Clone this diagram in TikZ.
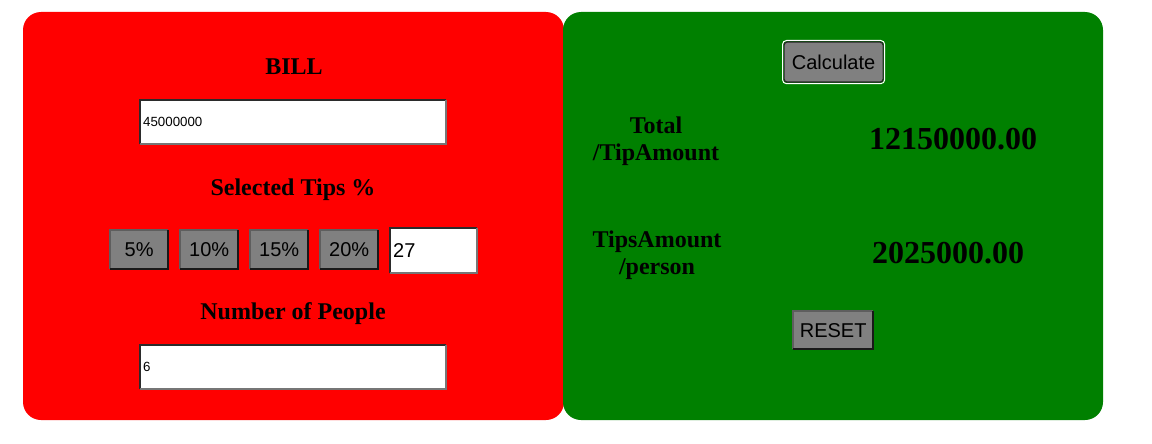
\documentclass[tikz,border=0pt]{standalone}
\usepackage{fontspec}
\setmainfont{Liberation Serif}
\newfontfamily\arialf{Liberation Sans}
\definecolor{panelred}{HTML}{FF0000}
\definecolor{panelgreen}{HTML}{008000}
\definecolor{btngray}{HTML}{808080}
\definecolor{bdark}{HTML}{2B2B2B}
\definecolor{blight}{HTML}{767676}
\tikzset{
  panel/.style={rounded corners=18pt, draw=none},
  heading/.style={font=\fontsize{24}{27}\selectfont\bfseries, align=center, inner sep=0pt},
  value/.style={font=\fontsize{32}{34}\selectfont\bfseries, inner sep=0pt},
  inbox/.style={fill=white, draw=none, inner xsep=3pt, inner ysep=0pt, align=left, anchor=north west},
  btn/.style={fill=btngray, draw=none, inner sep=0pt, font=\arialf\fontsize{20}{22}\selectfont, anchor=north west},
  bdk/.style={draw=bdark, line width=2pt},
  blt/.style={draw=blight, line width=2pt},
  bbk/.style={draw=black!90, line width=2pt},
}
\begin{document}
\begin{tikzpicture}[x=1pt,y=-1pt]
\useasboundingbox (0,0) rectangle (1152,444);
% panels
\fill[panelred, panel] (23,12) rectangle (564,420);
\fill[panelgreen, panel] (563,12) rectangle (1103,420);

% left panel
\node[heading] (bill) at (294,67) {BILL};
\node[inbox, minimum height=44pt, text width=300pt, font=\arialf\fontsize{13.3}{15}\selectfont] (billin) at (140,100) {45000000};
\node[heading] (tips) at (293,190) {Selected Tips \%};
\node[btn, minimum width=58pt, minimum height=39pt] (b5) at (110,230) {5\%};
\node[btn, minimum width=58pt, minimum height=39pt] (b10) at (180,230) {10\%};
\node[btn, minimum width=58pt, minimum height=39pt] (b15) at (250,230) {15\%};
\node[btn, minimum width=58pt, minimum height=39pt] (b20) at (320,230) {20\%};
\node[inbox, minimum height=45pt, text width=81pt, font=\arialf\fontsize{20}{22}\selectfont] (custom) at (390,228) {27};
\node[heading] (people) at (293,314) {Number of People};
\node[inbox, minimum height=44pt, text width=300pt, font=\arialf\fontsize{13.3}{15}\selectfont] (peoplein) at (140,345) {6};

% input borders
\foreach \n in {billin,custom,peoplein}{
  \draw[bdk] (\n.south west) -- (\n.north west) -- (\n.north east);
  \draw[blt] (\n.north east) -- (\n.south east) -- (\n.south west);
}
% button borders
\foreach \n in {b5,b10,b15,b20}{
  \draw[draw=blight!80!black, line width=2pt] (\n.south west) -- (\n.north west) -- (\n.north east);
  \draw[bbk] (\n.north east) -- (\n.south east) -- (\n.south west);
}

% right panel
\node[btn, minimum width=99pt, minimum height=40pt, rounded corners=3pt, draw=black!85, line width=1.2pt] (calc) at (783.5,41.5) {Calculate};
\draw[white, line width=1pt, rounded corners=4pt] ([xshift=-1pt,yshift=1pt]calc.north west) rectangle ([xshift=1pt,yshift=-1pt]calc.south east);
\node[heading] (total) at (656,141) {Total\\/TipAmount};
\node[value] (totalv) at (953,139) {12150000.00};
\node[heading] (tpp) at (657,255) {TipsAmount\\/person};
\node[value] (tppv) at (948,253) {2025000.00};
\node[btn, minimum width=80pt, minimum height=38pt] (reset) at (793,311) {RESET};
\draw[draw=blight!80!black, line width=2pt] (reset.south west) -- (reset.north west) -- (reset.north east);
\draw[bbk] (reset.north east) -- (reset.south east) -- (reset.south west);
\end{tikzpicture}
\end{document}
